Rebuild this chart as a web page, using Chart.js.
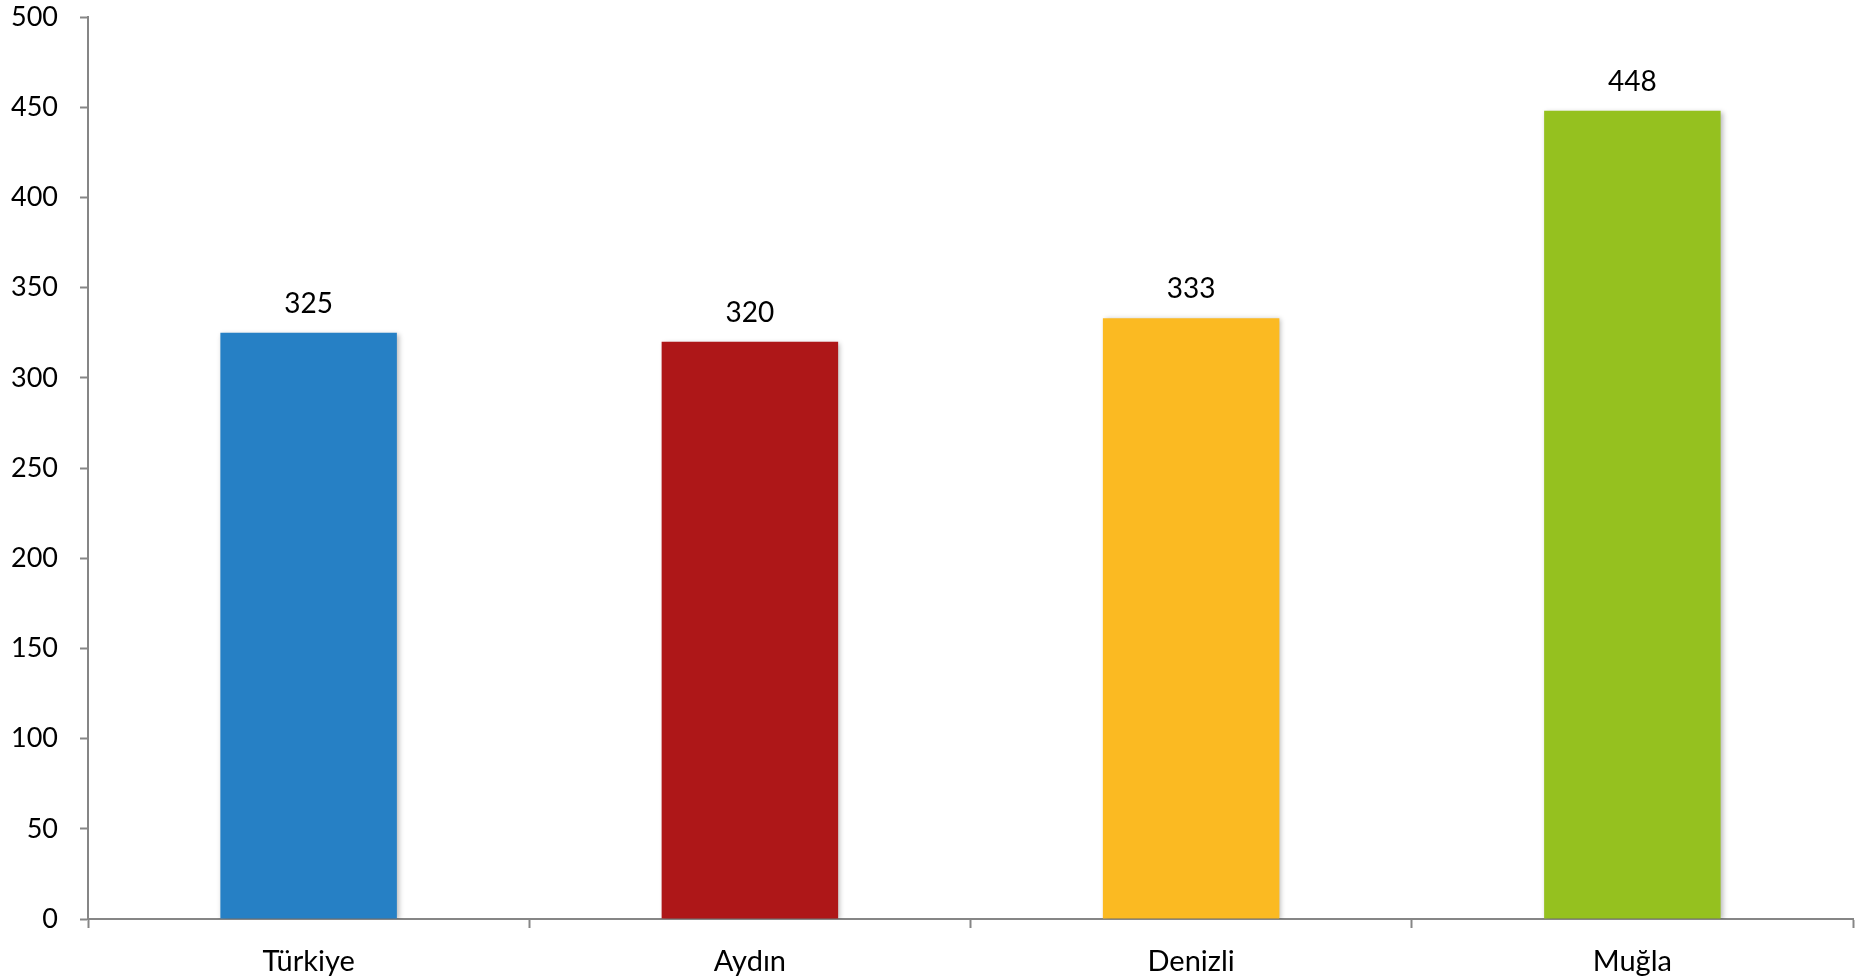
<!DOCTYPE html>
<html>
<head>
<meta charset="utf-8">
<title>Bar chart</title>
<script src="https://cdn.jsdelivr.net/npm/chart.js@4.4.1/dist/chart.umd.min.js"></script>
<style>
  html, body { margin: 0; padding: 0; background: #ffffff; }
  #wrap { width: 1864px; height: 980px; }
</style>
</head>
<body>
<div id="wrap"><canvas id="chart-bar" width="1864" height="980"></canvas></div>
<script>
var categories = ["Türkiye", "Aydın", "Denizli", "Muğla"];
var values = [325, 320, 333, 448];
var barColors = ["#2680c5", "#ae1718", "#fbba22", "#95c11f"];
var yTicks = [0, 50, 100, 150, 200, 250, 300, 350, 400, 450, 500];

var axisColor = "#868686";
var fontFamily = "Lato, 'Open Sans', sans-serif";

// bar value on top of each bar
var valueLabels = {
    id: "valueLabels",
    afterDatasetsDraw: function(chart) {
        var ctx = chart.ctx;
        var meta = chart.getDatasetMeta(0);
        ctx.save();
        ctx.font = "28px " + fontFamily;
        ctx.fillStyle = "#000000";
        ctx.textAlign = "center";
        ctx.textBaseline = "alphabetic";
        meta.data.forEach(function(bar, i) {
            ctx.fillText(values[i], bar.x, bar.y - 20);
        });
        ctx.restore();
    }
};

// soft shadow under the bars
var barShadow = {
    id: "barShadow",
    beforeDatasetsDraw: function(chart) {
        var ctx = chart.ctx;
        ctx.save();
        ctx.shadowColor = "rgba(0,0,0,0.28)";
        ctx.shadowBlur = 5;
        ctx.shadowOffsetX = 2;
        ctx.shadowOffsetY = 1;
    },
    afterDatasetsDraw: function(chart) {
        chart.ctx.restore();
    }
};

var ctx1 = document.getElementById("chart-bar").getContext("2d");

new Chart(ctx1, {
    type: "bar",
    data: {
        labels: categories,
        datasets: [{
            data: values,
            backgroundColor: barColors,
            borderWidth: 0,
            barPercentage: 0.4,
            categoryPercentage: 1.0
        }]
    },
    options: {
        responsive: false,
        animation: false,
        layout: {
            padding: { top: 0, right: 11, left: 0, bottom: 0 }
        },
        plugins: {
            legend: { display: false },
            tooltip: { enabled: false }
        },
        scales: {
            x: {
                grid: {
                    display: true,
                    drawOnChartArea: false,
                    drawTicks: true,
                    tickLength: 9,
                    tickWidth: 2,
                    tickColor: axisColor,
                    offset: true
                },
                border: { display: true, color: axisColor, width: 2 },
                ticks: {
                    color: "#000000",
                    padding: 16,
                    maxRotation: 0,
                    font: { family: fontFamily, size: 29 }
                },
                afterFit: function(scale) { scale.height = 61; }
            },
            y: {
                min: 0,
                max: 500,
                afterBuildTicks: function(scale) {
                    scale.ticks = yTicks.map(function(v) { return { value: v }; });
                },
                grid: {
                    display: true,
                    drawOnChartArea: false,
                    drawTicks: true,
                    tickLength: 8,
                    tickWidth: 2,
                    tickColor: axisColor
                },
                border: { display: true, color: axisColor, width: 2 },
                ticks: {
                    color: "#000000",
                    padding: 22,
                    font: { family: fontFamily, size: 27 }
                },
                afterFit: function(scale) {
                    scale.width = 88;
                    scale.paddingTop = 17;
                    scale.paddingBottom = 0;
                }
            }
        }
    },
    plugins: [barShadow, valueLabels]
});
</script>
</body>
</html>
